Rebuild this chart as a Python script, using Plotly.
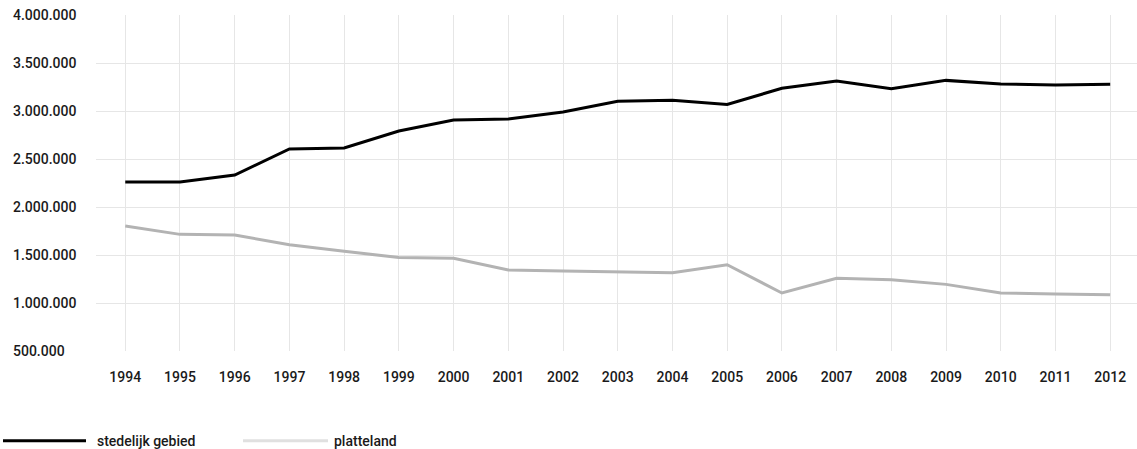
import plotly.graph_objects as go

years = [str(y) for y in range(1994, 2013)]
stedelijk = [2260000, 2260000, 2333000, 2604000, 2615000, 2792000, 2906000, 2917000, 2990000,
             3101000, 3111000, 3069000, 3236000, 3312000, 3233000, 3319000, 3281000, 3271000, 3278000]
platteland = [1802000, 1715000, 1708000, 1607000, 1538000, 1475000, 1465000, 1344000, 1333000,
              1323000, 1316000, 1399000, 1104000, 1257000, 1243000, 1194000, 1104000, 1094000, 1087000]
y_ticks = [500000, 1000000, 1500000, 2000000, 2500000, 3000000, 3500000, 4000000]
y_labels = [f"{v:,}".replace(",", ".") for v in y_ticks]
series_names = ["stedelijk gebied", "platteland"]

W, H = 1137, 449
FONT = "Roboto"
TXT = "#1a1a1a"

fig = go.Figure()
fig.add_trace(go.Scatter(x=years, y=stedelijk, mode="lines", name=series_names[0],
                         line=dict(color="#000000", width=3), showlegend=False))
fig.add_trace(go.Scatter(x=years, y=platteland, mode="lines", name=series_names[1],
                         line=dict(color="#b3b3b3", width=3), showlegend=False))

fig.update_layout(
    template="none",
    width=W, height=H,
    margin=dict(l=0, r=0, t=0, b=0, pad=0, autoexpand=False),
    paper_bgcolor="white", plot_bgcolor="white",
    font=dict(family=FONT, size=14, color=TXT),
    xaxis=dict(type="category", domain=[96 / W, 1], range=[-0.535, 18.49], automargin=False,
               showgrid=True, gridcolor="#e6e6e6", gridwidth=1,
               showline=False, zeroline=False, ticks="", ticklabelstandoff=16,
               tickfont=dict(family=FONT, size=14, color=TXT, weight=500)),
    yaxis=dict(domain=[(H - 351) / H, (H - 15) / H], range=[500000, 4000000], automargin=False,
               tickvals=y_ticks, ticktext=y_labels,
               showgrid=True, gridcolor="#e6e6e6", gridwidth=1,
               showline=False, zeroline=False, ticks="",
               ticklabelposition="inside", ticklabelstandoff=-86,
               ticklabeloverflow="allow",
               tickfont=dict(family=FONT, size=14, color=TXT, weight=500)),
)

# custom legend
legend_items = [
    (series_names[0], "#000000", 3, 86, 95),
    (series_names[1], "#e0e0e0", 243, 328, 332),
]
ly = (H - 440.7) / H
for name, col, x0, x1, tx in legend_items:
    fig.add_shape(type="line", xref="paper", yref="paper", x0=x0 / W, x1=x1 / W, y0=ly, y1=ly,
                  line=dict(color=col, width=3))
    fig.add_annotation(xref="paper", yref="paper", x=tx / W, y=ly, xanchor="left", yanchor="middle",
                       text=name, showarrow=False,
                       font=dict(family=FONT, size=14, color=TXT, weight=500))

fig.write_html("out.html")
